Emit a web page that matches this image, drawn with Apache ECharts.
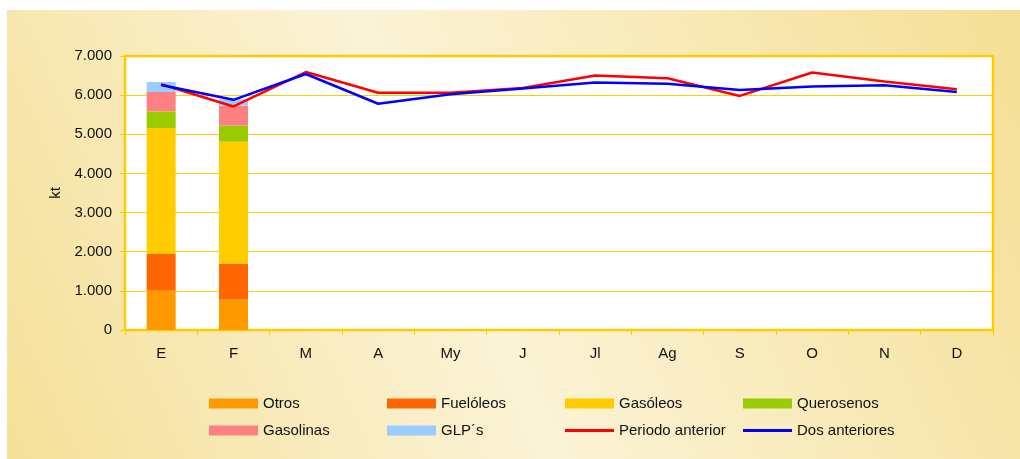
<!DOCTYPE html>
<html>
<head>
<meta charset="utf-8">
<script src="https://cdn.jsdelivr.net/npm/echarts@6/dist/echarts.min.js"></script>
<style>
  html, body { margin: 0; padding: 0; background: #fff; }
  #chart { width: 1020px; height: 459px; }
</style>
</head>
<body>
<div id="chart"></div>
<script>
const months = ['E', 'F', 'M', 'A', 'My', 'J', 'Jl', 'Ag', 'S', 'O', 'N', 'D'];
const otros = [1000, 770];
const fueloleos = [940, 920];
const gasoleos = [3220, 3120];
const querosenos = [425, 410];
const gasolinas = [495, 510];
const glps = [255, 165];
const periodoAnterior = [6280, 5710, 6590, 6060, 6060, 6180, 6500, 6430, 5980, 6580, 6350, 6150];
const dosAnteriores = [6260, 5880, 6540, 5780, 6020, 6170, 6320, 6290, 6130, 6220, 6250, 6080];

const gold = '#FFCC00';
const font = 'Liberation Sans, Arial, sans-serif';

function miles(v) {
  return String(v).replace(/\B(?=(\d{3})+(?!\d))/g, '.');
}

function bar(name, data, color) {
  return {
    name: name, type: 'bar', stack: 'total', data: data,
    barWidth: 29, itemStyle: { color: color }
  };
}

function line(name, data, color) {
  return {
    name: name, type: 'line', data: data, symbol: 'none',
    lineStyle: { color: color, width: 2.5 }, itemStyle: { color: color }, z: 5
  };
}

// one legend per item so the 4x2 layout lines up like the original
function legendAt(name, left, top, isLine) {
  return {
    data: [name], left: left, top: top, padding: 0,
    icon: 'rect', itemWidth: 49, itemHeight: isLine ? 3 : 10,
    textStyle: { fontFamily: font, fontSize: 15, color: '#111' },
    selectedMode: false
  };
}

const chart = echarts.init(document.getElementById('chart'));
chart.setOption({
  animation: false,
  graphic: [{
    type: 'rect', z: -10, silent: true,
    shape: { x: 7, y: 10, width: 1013, height: 449 },
    style: {
      fill: new echarts.graphic.LinearGradient(0, 1, 1, 0, [
        { offset: 0, color: '#F5E098' },
        { offset: 0.45, color: '#FBF3D6' },
        { offset: 1, color: '#F5DF95' }
      ])
    }
  }],
  grid: {
    left: 125, right: 27, top: 56, bottom: 129,
    show: true, backgroundColor: '#fff', borderColor: gold, borderWidth: 2.5
  },
  legend: [
    legendAt('Otros', 209, 396),
    legendAt('Fuelóleos', 387, 396),
    legendAt('Gasóleos', 565, 396),
    legendAt('Querosenos', 743, 396),
    legendAt('Gasolinas', 209, 423),
    legendAt('GLP´s', 387, 423),
    legendAt('Periodo anterior', 565, 423, true),
    legendAt('Dos anteriores', 743, 423, true)
  ],
  xAxis: {
    type: 'category', data: months, boundaryGap: true,
    axisLine: { lineStyle: { color: gold, width: 2 } },
    axisTick: { show: true, length: 5, lineStyle: { color: gold } },
    axisLabel: { margin: 16, fontFamily: font, fontSize: 15, color: '#111' }
  },
  yAxis: {
    type: 'value', min: 0, max: 7000, interval: 1000,
    name: 'kt', nameLocation: 'middle', nameGap: 62, nameRotate: 90,
    nameTextStyle: { fontFamily: font, fontSize: 15, color: '#111' },
    axisLine: { show: true, lineStyle: { color: gold, width: 2 } },
    axisTick: { show: true, length: 5, lineStyle: { color: gold } },
    splitLine: { lineStyle: { color: gold, width: 1 } },
    axisLabel: { margin: 13, fontFamily: font, fontSize: 15, color: '#111', formatter: miles }
  },
  series: [
    bar('Otros', otros, '#FF9900'),
    bar('Fuelóleos', fueloleos, '#FF6600'),
    bar('Gasóleos', gasoleos, '#FFCC00'),
    bar('Querosenos', querosenos, '#99CC00'),
    bar('Gasolinas', gasolinas, '#FF8080'),
    bar('GLP´s', glps, '#99CCFF'),
    line('Periodo anterior', periodoAnterior, '#FF0000'),
    line('Dos anteriores', dosAnteriores, '#0000FF')
  ]
});
</script>
</body>
</html>
